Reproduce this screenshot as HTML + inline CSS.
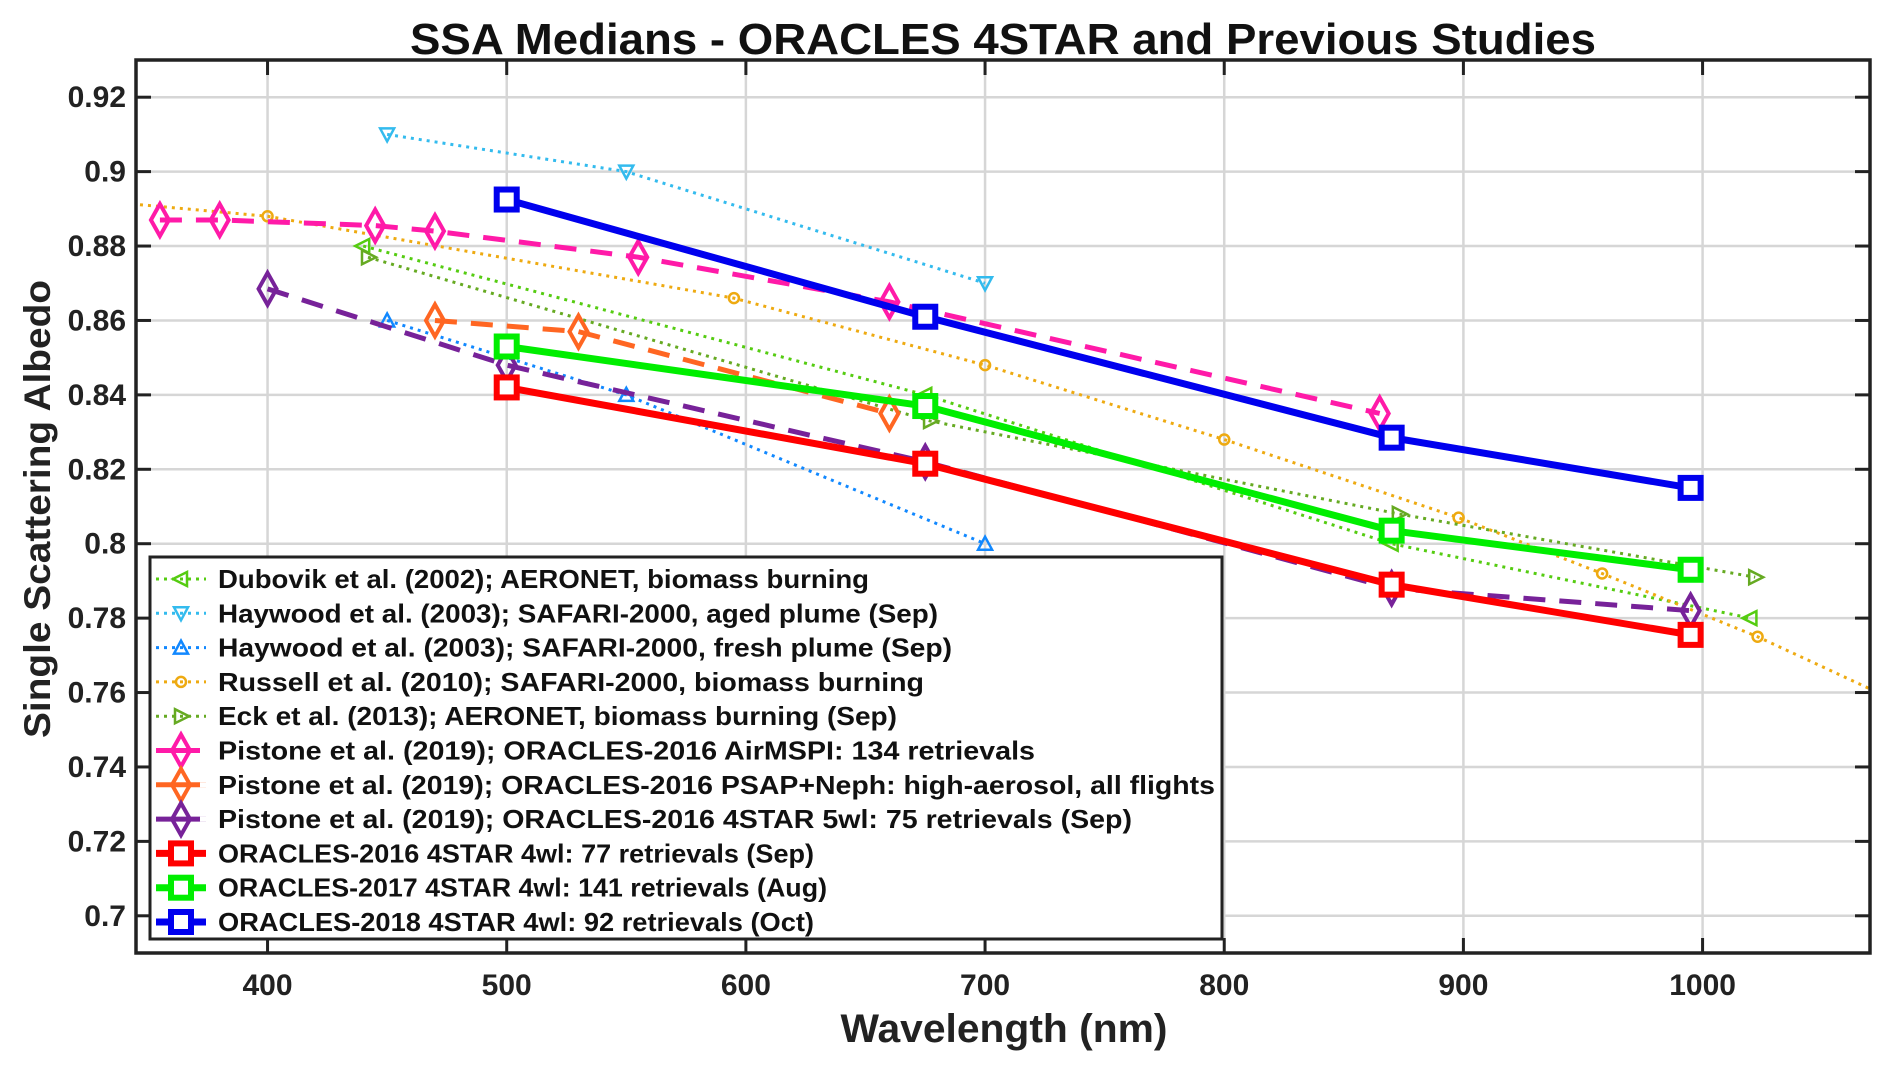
<!DOCTYPE html>
<html><head><meta charset="utf-8"><style>
html,body{margin:0;padding:0;background:#fff;}
svg{display:block;font-family:"Liberation Sans",sans-serif;font-weight:bold;}
</style></head><body>
<svg id="chart" width="1892" height="1067" viewBox="0 0 1892 1067" xmlns="http://www.w3.org/2000/svg">
<rect width="1892" height="1067" fill="#fff"/>
<text x="1003" y="54" text-anchor="middle" font-size="44" fill="#111" textLength="1186" lengthAdjust="spacingAndGlyphs">SSA Medians - ORACLES 4STAR and Previous Studies</text>
<g id="grid"></g>
<g id="series"></g>
<g id="axes"></g>
<g id="legend"></g>
<text x="1004" y="1042" text-anchor="middle" font-size="40" fill="#222" textLength="327" lengthAdjust="spacingAndGlyphs">Wavelength (nm)</text>
<text transform="translate(50,509) rotate(-90)" text-anchor="middle" font-size="37" fill="#222" textLength="458" lengthAdjust="spacingAndGlyphs">Single Scattering Albedo</text>
</svg>
<script>
const xTicks = [400,500,600,700,800,900,1000];
const yTicks = [0.70,0.72,0.74,0.76,0.78,0.80,0.82,0.84,0.86,0.88,0.90,0.92];
const yTickLabels = ["0.7","0.72","0.74","0.76","0.78","0.8","0.82","0.84","0.86","0.88","0.9","0.92"];

const dubovikX = [440,675,870,1020];
const dubovikY = [0.880,0.840,0.800,0.780];
const haywoodAgedX = [450,550,700];
const haywoodAgedY = [0.910,0.900,0.870];
const haywoodFreshX = [450,550,700];
const haywoodFreshY = [0.860,0.840,0.800];
const russellX = [340,400,595,700,800,898,958,1023,1075];
const russellY = [0.8915,0.888,0.866,0.848,0.828,0.807,0.792,0.775,0.7595];
const russellMarked = [false,true,true,true,true,true,true,true,false];
const eckX = [442,677,873,1022];
const eckY = [0.877,0.833,0.808,0.791];
const airmspiX = [355,380,445,470,555,660,865];
const airmspiY = [0.887,0.887,0.8855,0.884,0.877,0.865,0.835];
const psapX = [470,530,660];
const psapY = [0.860,0.857,0.835];
const p5wlX = [400,500,675,870,995];
const p5wlY = [0.8685,0.848,0.822,0.788,0.782];
const o2016X = [500,675,870,995];
const o2016Y = [0.842,0.8215,0.789,0.7755];
const o2017X = [500,675,870,995];
const o2017Y = [0.853,0.837,0.8035,0.793];
const o2018X = [500,675,870,995];
const o2018Y = [0.8925,0.861,0.8285,0.815];

const L=136,R=1870,T=60,B=953, X0=345,X1=1070, Y0=0.69,Y1=0.93;
const sx=v=>L+(v-X0)/(X1-X0)*(R-L);
const sy=v=>B-(v-Y0)/(Y1-Y0)*(B-T);
const NS="http://www.w3.org/2000/svg";
function mk(tag,attrs,parent){const e=document.createElementNS(NS,tag);for(const k in attrs)e.setAttribute(k,attrs[k]);parent.appendChild(e);return e;}
const gGrid=document.getElementById('grid'),gS=document.getElementById('series'),gA=document.getElementById('axes'),gL=document.getElementById('legend');

xTicks.forEach(v=>{
  const l=mk('line',{x1:sx(v),x2:sx(v),y1:T,y2:B,stroke:'#d6d6d6','stroke-width':2.5},gGrid);
  
  
  mk('line',{x1:sx(v),x2:sx(v),y1:T,y2:T+15,stroke:'#222','stroke-width':3},gA);
  mk('line',{x1:sx(v),x2:sx(v),y1:B,y2:B-15,stroke:'#222','stroke-width':3},gA);
  const t=mk('text',{x:sx(v),y:B+42,'text-anchor':'middle','font-size':30,fill:'#222'},gA);
  t.textContent=v;
  
  
});
yTicks.forEach((v,i)=>{
  const l=mk('line',{x1:L,x2:R,y1:sy(v),y2:sy(v),stroke:'#d6d6d6','stroke-width':2.5},gGrid);
  
  
  mk('line',{x1:L,x2:L+15,y1:sy(v),y2:sy(v),stroke:'#222','stroke-width':3},gA);
  mk('line',{x1:R,x2:R-15,y1:sy(v),y2:sy(v),stroke:'#222','stroke-width':3},gA);
  const t=mk('text',{x:L-10,y:sy(v)+10,'text-anchor':'end','font-size':30,fill:'#222'},gA);
  t.textContent=yTickLabels[i];
  
  
});
const frame=mk('rect',{x:L,y:T,width:R-L,height:B-T,fill:'none',stroke:'#222','stroke-width':3.5},gA);



function marker(type,x,y,color,parent){
  let e;
  if(type==='sq'){e=mk('rect',{x:x-10,y:y-10,width:20,height:20,fill:'#fff',stroke:color,'stroke-width':6},parent);}
  else if(type==='dia'){e=mk('polygon',{points:`${x},${y-16} ${x+9},${y} ${x},${y+16} ${x-9},${y}`,fill:'none',stroke:color,'stroke-width':4},parent);}
  else if(type==='left'){e=mk('polygon',{points:`${x-8},${y} ${x+6},${y-7} ${x+6},${y+7}`,fill:'none',stroke:color,'stroke-width':2.5},parent);}
  else if(type==='right'){e=mk('polygon',{points:`${x+8},${y} ${x-6},${y-7} ${x-6},${y+7}`,fill:'none',stroke:color,'stroke-width':2.5},parent);}
  else if(type==='down'){e=mk('polygon',{points:`${x},${y+7} ${x-7},${y-6} ${x+7},${y-6}`,fill:'none',stroke:color,'stroke-width':2.5},parent);}
  else if(type==='up'){e=mk('polygon',{points:`${x},${y-7} ${x-7},${y+6} ${x+7},${y+6}`,fill:'none',stroke:color,'stroke-width':2.5},parent);}
  else if(type==='circ'){e=mk('circle',{cx:x,cy:y,r:5,fill:'none',stroke:color,'stroke-width':2.5},parent);}
  return e;
}
const styles={
  dot:{w:3,dash:'3 5'}, dash:{w:5,dash:'22 14'}, solid:{w:7,dash:'none'}
};
const seriesDefs=[
  {name:'dubovik',xs:dubovikX,ys:dubovikY,c:'#55cc11',m:'left',s:'dot',label:'Dubovik et al. (2002); AERONET, biomass burning'},
  {name:'haywood-aged',xs:haywoodAgedX,ys:haywoodAgedY,c:'#33bbee',m:'down',s:'dot',label:'Haywood et al. (2003); SAFARI-2000, aged plume (Sep)'},
  {name:'haywood-fresh',xs:haywoodFreshX,ys:haywoodFreshY,c:'#1188ff',m:'up',s:'dot',label:'Haywood et al. (2003); SAFARI-2000, fresh plume (Sep)'},
  {name:'russell',xs:russellX,ys:russellY,c:'#eeaa11',m:'circ',s:'dot',marked:russellMarked,label:'Russell et al. (2010); SAFARI-2000, biomass burning'},
  {name:'eck',xs:eckX,ys:eckY,c:'#66aa22',m:'right',s:'dot',label:'Eck et al. (2013); AERONET, biomass burning (Sep)'},
  {name:'pistone-airmspi',xs:airmspiX,ys:airmspiY,c:'#ff1aa8',m:'dia',s:'dash',label:'Pistone et al. (2019); ORACLES-2016 AirMSPI: 134 retrievals'},
  {name:'pistone-psap',xs:psapX,ys:psapY,c:'#ff6622',m:'dia',s:'dash',label:'Pistone et al. (2019); ORACLES-2016 PSAP+Neph: high-aerosol, all flights'},
  {name:'pistone-5wl',xs:p5wlX,ys:p5wlY,c:'#772299',m:'dia',s:'dash',label:'Pistone et al. (2019); ORACLES-2016 4STAR 5wl: 75 retrievals (Sep)'},
  {name:'oracles-2016',xs:o2016X,ys:o2016Y,c:'#ff0000',m:'sq',s:'solid',label:'ORACLES-2016 4STAR 4wl: 77 retrievals (Sep)'},
  {name:'oracles-2017',xs:o2017X,ys:o2017Y,c:'#00ee00',m:'sq',s:'solid',label:'ORACLES-2017 4STAR 4wl: 141 retrievals (Aug)'},
  {name:'oracles-2018',xs:o2018X,ys:o2018Y,c:'#0000ee',m:'sq',s:'solid',label:'ORACLES-2018 4STAR 4wl: 92 retrievals (Oct)'}
];
mk('clipPath',{id:'clip'},gS);
mk('rect',{x:L,y:T,width:R-L,height:B-T},document.getElementById('clip'));
seriesDefs.forEach(d=>{
  const g=mk('g',{'clip-path':'url(#clip)'},gS);
  
  
  const st=styles[d.s];
  const pts=d.xs.map((x,i)=>sx(x)+','+sy(d.ys[i])).join(' ');
  const pl=mk('polyline',{points:pts,fill:'none',stroke:d.c,'stroke-width':st.w,'stroke-dasharray':st.dash},g);
  
  
  d.xs.forEach((x,i)=>{
    if(d.marked && !d.marked[i]) return;
    const m=marker(d.m,sx(x),sy(d.ys[i]),d.c,g);
    
    
  });
});
const lb=mk('rect',{x:150,y:557,width:1072,height:382,fill:'#fff',stroke:'#222','stroke-width':3},gL);


seriesDefs.forEach((d,i)=>{
  const y=579+i*34.3;
  const g=mk('g',{},gL);
  
  
  const st=styles[d.s];
  mk('line',{x1:156,x2:206,y1:y,y2:y,stroke:d.c,'stroke-width':st.w,'stroke-dasharray':d.s==='dash'?'none':st.dash},g);
  if(d.s==='dash'){mk('rect',{x:200,y:y-2.5,width:8,height:5,fill:'#fff'},g);}
  marker(d.m,181,y,d.c,g);
  const t=mk('text',{x:218,y:y+9,'font-size':26,fill:'#111'},g);
  t.textContent=d.label;
  t.setAttribute('textLength',Math.round(d.label.length*13.85));
  t.setAttribute('lengthAdjust','spacingAndGlyphs');
});
</script>
</body></html>
